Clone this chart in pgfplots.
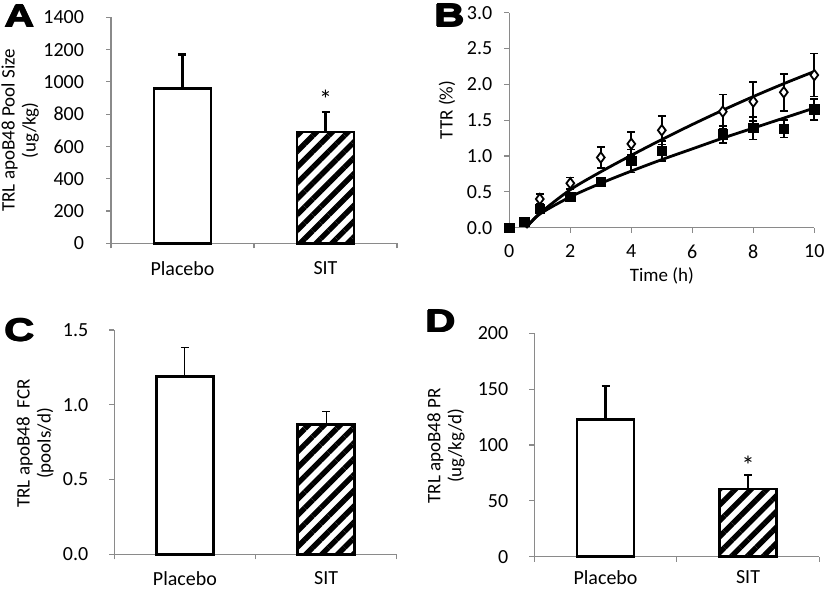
\documentclass[border=0pt]{standalone}
\usepackage{fontspec}
\setmainfont{Carlito}
\newfontfamily\lettfont{Liberation Sans}
\usepackage{graphicx}
\usepackage{pgfplots}
\pgfplotsset{compat=1.18}
\usetikzlibrary{patterns.meta}
\definecolor{axisgray}{HTML}{8A8A8A}
\newcommand{\tfont}{\fontsize{9.5}{10.5}\selectfont}
\newcommand{\kfont}{\fontsize{10}{11}\selectfont}
\newcommand{\panellet}[1]{\scalebox{1.3}[1]{\lettfont\bfseries\fontsize{16}{16}\selectfont\rlap{#1}\rlap{\hspace{0.6pt}#1}\rlap{\raisebox{0.4pt}{\hspace{0.3pt}#1}}\hspace{0.3pt}\raisebox{-0.3pt}{#1}}}
\pgfplotsset{
  panel/.style={
    scale only axis, anchor=south west, clip=false,
    axis lines*=left,
    axis line style={draw=axisgray, line width=0.6pt},
    every tick/.style={draw=axisgray, line width=0.6pt},
    tick align=outside, major tick length=2.5pt, minor tick length=2.5pt,
    tick label style={font=\kfont, /pgf/number format/assume math mode=true},
    label style={font=\tfont, align=center},
  },
  barpanel/.style={
    panel, xmin=0, xmax=2, xtick={0.5,1.5}, xticklabels={Placebo,SIT},
    minor xtick={0,1,2}, major x tick style={draw=none},
    ymin=0, ybar, bar width=28.5pt,
    yticklabel style={xshift=-7pt},
    /pgf/number format/1000 sep={},
  },
  hatched/.style={draw=black, line width=1.4pt,
    pattern={Lines[angle=45, distance=5.6pt, line width=2.7pt]}, pattern color=black},
  plain/.style={draw=black, line width=1.4pt, fill=white},
}
\begin{document}
\begin{tikzpicture}
\path[use as bounding box] (0,0) rectangle (412.5pt,295.5pt);

% ---------------- Panel A ----------------
\begin{axis}[barpanel, at={(55.5pt,173.85pt)}, width=143pt, height=113pt,
  ymax=1400, ytick={0,200,...,1400},
  yticklabel style={xshift=-0.5pt},
  xticklabel style={yshift=-3pt},
  ylabel={TRL apoB48 Pool Size\\(ug/kg)},
  ylabel style={at={(axis description cs:-0.318,0.5)}, anchor=center},
  error bars/error bar style={line width=1.2pt, black},
  error bars/error mark options={rotate=90, mark size=2pt, line width=1.2pt, black},
]
\addplot[plain, bar shift=0pt, error bars/.cd, y dir=plus, y explicit]
  coordinates {(0.5,960) +- (0,210)};
\addplot[hatched, bar shift=0pt, error bars/.cd, y dir=plus, y explicit]
  coordinates {(1.5,690) +- (0,122)};
\node[font=\fontsize{13}{13}\selectfont] at (axis cs:1.5,890) {*};
\end{axis}

% ---------------- Panel B ----------------
\begin{axis}[panel, at={(254.65pt,181.65pt)}, width=152.5pt, height=107.5pt,
  xmin=0, xmax=10, ymin=0, ymax=3,
  xtick={0,2,...,10}, ytick={0,0.5,...,3},
  yticklabel style={xshift=-2.5pt, /pgf/number format/.cd, fixed, fixed zerofill, precision=1},
  xticklabel style={yshift=-2.5pt},
  xlabel={Time (h)}, ylabel={TTR (\%)},
  ylabel style={at={(axis description cs:-0.204,0.547)}, anchor=center},
  xlabel style={at={(axis description cs:0.5,-0.225)}, anchor=center},
  error bars/error bar style={line width=0.9pt, black},
  error bars/error mark options={rotate=90, mark size=2pt, line width=0.9pt, black},
]
\addplot[black, line width=1.4pt, smooth, no marks] coordinates {
 (0.55,0) (1,0.2) (2,0.53) (3,0.78) (4,1.01) (5,1.23) (6,1.44) (7,1.64) (8,1.83) (9,2.01) (10,2.18)};
\addplot[black, line width=1.4pt, smooth, no marks] coordinates {
 (0.55,0) (1,0.19) (2,0.43) (3,0.62) (4,0.79) (5,0.95) (6,1.1) (7,1.25) (8,1.39) (9,1.53) (10,1.67)};
\addplot[only marks, mark=square*, mark size=2.4pt, black,
  error bars/.cd, y dir=both, y explicit] coordinates {
 (0,0) +- (0,0)
 (0.5,0.08) +- (0,0.02)
 (1,0.26) +- (0,0.05)
 (2,0.43) +- (0,0.05)
 (3,0.64) +- (0,0.06)
 (4,0.93) +- (0,0.16)
 (5,1.07) +- (0,0.14)
 (7,1.30) +- (0,0.12)
 (8,1.39) +- (0,0.16)
 (9,1.38) +- (0,0.12)
 (10,1.65) +- (0,0.15)};
\addplot[only marks, mark=diamond*, mark size=2.6pt,
  mark options={fill=white, draw=black, line width=0.9pt},
  error bars/.cd, y dir=both, y explicit] coordinates {
 (1,0.40) +- (0,0.07)
 (2,0.62) +- (0,0.08)
 (3,0.98) +- (0,0.15)
 (4,1.17) +- (0,0.16)
 (5,1.36) +- (0,0.20)
 (7,1.62) +- (0,0.24)
 (8,1.76) +- (0,0.27)
 (9,1.89) +- (0,0.26)
 (10,2.13) +- (0,0.30)};
\end{axis}

% ---------------- Panel C ----------------
\begin{axis}[barpanel, at={(57.15pt,18.35pt)}, width=141.2pt, height=112.15pt,
  ymax=1.5, ytick={0,0.5,1,1.5},
  xticklabel style={yshift=-2.5pt},
  yticklabel style={/pgf/number format/.cd, fixed, fixed zerofill, precision=1},
  ylabel={TRL apoB48\ \ FCR\\(pools/d)},
  ylabel style={at={(axis description cs:-0.28,0.494)}, anchor=center},
  error bars/error bar style={line width=0.5pt, black},
  error bars/error mark options={rotate=90, mark size=2pt, line width=0.5pt, black},
]
\addplot[plain, bar shift=0pt, error bars/.cd, y dir=plus, y explicit]
  coordinates {(0.5,1.19) +- (0,0.19)};
\addplot[hatched, bar shift=0pt, error bars/.cd, y dir=plus, y explicit]
  coordinates {(1.5,0.87) +- (0,0.085)};
\end{axis}

% ---------------- Panel D ----------------
\begin{axis}[barpanel, at={(267.15pt,17.15pt)}, width=142.5pt, height=111.7pt,
  ymax=200, ytick={0,50,...,200},
  xticklabel style={yshift=-1pt},
  ylabel={TRL apoB48 PR\\(ug/kg/d)},
  ylabel style={at={(axis description cs:-0.31,0.496)}, anchor=center},
  error bars/error bar style={line width=1.2pt, black},
  error bars/error mark options={rotate=90, mark size=2pt, line width=1.2pt, black},
]
\addplot[plain, bar shift=0pt, error bars/.cd, y dir=plus, y explicit]
  coordinates {(0.5,123) +- (0,30)};
\addplot[hatched, bar shift=0pt, error bars/.cd, y dir=plus, y explicit]
  coordinates {(1.5,60.6) +- (0,12.6)};
\node[font=\fontsize{13}{13}\selectfont] at (axis cs:1.5,82) {*};
\end{axis}

\node at (9.5pt,287.5pt) {\panellet{A}};
\node at (224.5pt,287.75pt) {\panellet{B}};
\node at (9.5pt,130.5pt) {\panellet{C}};
\node at (220pt,135pt) {\panellet{D}};
\end{tikzpicture}
\end{document}
